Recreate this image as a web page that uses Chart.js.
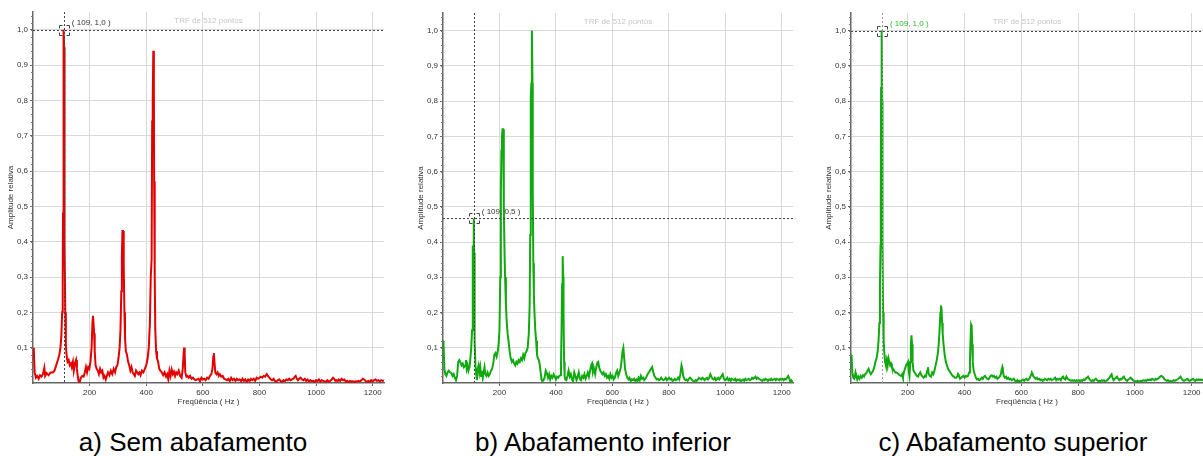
<!DOCTYPE html>
<html>
<head>
<meta charset="utf-8">
<script src="https://cdn.jsdelivr.net/npm/chart.js@4.4.1/dist/chart.umd.min.js"></script>
<style>
  body { margin: 0; background: #fff; width: 1203px; height: 456px; overflow: hidden; position: relative; font-family: "Liberation Sans", Arial, sans-serif; }
  canvas { position: absolute; top: 0; }
  .cap { position: absolute; top: 427px; width: 300px; text-align: center; font-size: 26px; line-height: 30px; color: #000; }
</style>
</head>
<body>
<canvas id="chartA" width="388" height="408" style="left:0px"></canvas>
<canvas id="chartB" width="386" height="408" style="left:410px"></canvas>
<canvas id="chartC" width="385" height="408" style="left:818px"></canvas>
<div class="cap" style="left:43px">a) Sem abafamento</div>
<div class="cap" style="left:453px">b) Abafamento inferior</div>
<div class="cap" style="left:863px">c) Abafamento superior</div>

<script>
// tick labels
var xTicks = [200, 400, 600, 800, 1000, 1200]
var yTicks = [0.1, 0.2, 0.3, 0.4, 0.5, 0.6, 0.7, 0.8, 0.9, 1.0]

// captions / texts
var captions = ["a) Sem abafamento", "b) Abafamento inferior", "c) Abafamento superior"]
var topNote = "TRF de 512 pontos"

// [frequencia Hz, amplitude relativa]
// a) Sem abafamento
var seriesA = [
  [0,0.10],[3,0.09],[6,0.03],[10,0.015],[15,0.02],[20,0.012],[25,0.022],[30,0.018],[35,0.025],[40,0.043],
  [43,0.02],[48,0.028],[55,0.022],[62,0.03],[70,0.03],[76,0.035],[82,0.05],[88,0.065],[93,0.08],[97,0.1],
  [100,0.13],[103,0.2],[105,0.3],[106,0.48],[107,0.83],[108,0.95],[109,1.0],[110,0.95],[111,0.8],[112,0.4],
  [114,0.2],[116,0.11],[119,0.075],[122,0.06],[126,0.065],[130,0.05],[134,0.055],[137,0.045],[141,0.06],[144,0.035],
  [148,0.055],[152,0.065],[155,0.04],[158,0.02],[161,0.005],[165,0.002],[169,0.015],[174,0.02],[179,0.018],[183,0.03],
  [187,0.045],[191,0.03],[195,0.045],[199,0.04],[203,0.06],[207,0.1],[210,0.17],[212,0.19],[214,0.19],[216,0.14],
  [218,0.09],[221,0.05],[225,0.04],[229,0.035],[233,0.025],[237,0.04],[241,0.03],[245,0.035],[249,0.015],[253,0.02],
  [257,0.01],[261,0.02],[265,0.03],[270,0.022],[275,0.035],[280,0.025],[285,0.04],[290,0.03],[294,0.045],[298,0.05],
  [302,0.07],[306,0.1],[309,0.15],[312,0.26],[314,0.36],[316,0.43],[318,0.43],[320,0.4],[321,0.33],[323,0.2],
  [325,0.13],[328,0.09],[332,0.08],[336,0.06],[340,0.05],[344,0.035],[348,0.045],[352,0.03],[356,0.025],[360,0.02],
  [364,0.035],[368,0.03],[372,0.025],[376,0.03],[380,0.022],[385,0.035],[390,0.03],[395,0.04],[400,0.05],[405,0.07],
  [409,0.1],[413,0.17],[416,0.3],[419,0.35],[421,0.74],[423,0.8],[425,0.94],[427,0.82],[428,0.57],[430,0.3],
  [432,0.15],[435,0.09],[438,0.07],[442,0.06],[446,0.04],[450,0.035],[455,0.03],[460,0.022],[465,0.03],[470,0.018],
  [474,0.025],[478,0.01],[482,0.035],[486,0.02],[490,0.038],[494,0.025],[498,0.032],[502,0.02],[506,0.03],[510,0.025],
  [515,0.035],[520,0.02],[525,0.015],[529,0.04],[532,0.08],[534,0.1],[536,0.08],[538,0.03],[542,0.018],[546,0.02],
  [550,0.015],[555,0.02],[560,0.012],[565,0.015],[570,0.01],[575,0.008],[580,0.01],[585,0.012],[590,0.005],[595,0.015],
  [600,0.01],[605,0.012],[610,0.008],[615,0.015],[620,0.012],[625,0.02],[630,0.025],[634,0.04],[637,0.075],[639,0.085],
  [641,0.06],[644,0.03],[648,0.025],[652,0.03],[656,0.02],[660,0.025],[665,0.018],[670,0.02],[675,0.012],[680,0.01],
  [685,0.008],[690,0.012],[695,0.005],[700,0.015],[705,0.008],[710,0.012],[715,0.006],[720,0.012],[725,0.008],[730,0.01],
  [735,0.005],[740,0.012],[745,0.006],[750,0.01],[755,0.003],[760,0.01],[765,0.005],[770,0.012],[775,0.008],[780,0.012],
  [785,0.006],[790,0.015],[795,0.012],[800,0.015],[805,0.018],[810,0.015],[815,0.02],[820,0.018],[826,0.025],[830,0.02],
  [835,0.015],[840,0.01],[845,0.008],[850,0.012],[855,0.005],[860,0.004],[865,0.008],[870,0.01],[875,0.005],[880,0.003],
  [885,0.008],[890,0.005],[895,0.01],[900,0.008],[905,0.012],[910,0.008],[915,0.01],[920,0.012],[925,0.018],[928,0.02],
  [932,0.012],[936,0.008],[940,0.012],[945,0.015],[950,0.01],[955,0.008],[960,0.012],[965,0.006],[970,0.01],[975,0.004],
  [980,0.008],[985,0.005],[990,0.006],[995,0.003],[1000,0.008],[1005,0.005],[1010,0.01],[1015,0.004],[1020,0.008],[1025,0.006],
  [1030,0.005],[1035,0.003],[1040,0.008],[1045,0.004],[1050,0.006],[1055,0.01],[1060,0.015],[1064,0.012],[1068,0.006],[1072,0.008],
  [1076,0.005],[1080,0.01],[1085,0.006],[1090,0.012],[1095,0.008],[1100,0.01],[1105,0.004],[1110,0.006],[1115,0.003],[1120,0.006],
  [1125,0.004],[1130,0.005],[1135,0.003],[1140,0.005],[1145,0.004],[1150,0.006],[1155,0.004],[1160,0.008],[1165,0.012],[1170,0.01],
  [1175,0.005],[1180,0.004],[1185,0.006],[1190,0.003],[1195,0.008],[1200,0.005],[1205,0.008],[1210,0.01],[1215,0.006],[1220,0.008],
  [1225,0.005],[1230,0.008],[1235,0.006],[1240,0.007]
]

// b) Abafamento inferior
var seriesB = [
  [0,0.12],[2,0.11],[5,0.04],[8,0.025],[12,0.02],[16,0.03],[20,0.035],[25,0.03],[30,0.028],[34,0.02],
  [38,0.025],[42,0.015],[46,0.008],[50,0.02],[54,0.06],[58,0.065],[62,0.058],[66,0.05],[70,0.055],[74,0.045],
  [78,0.05],[81,0.065],[84,0.04],[87,0.05],[90,0.035],[94,0.045],[97,0.07],[100,0.1],[103,0.15],[105,0.24],
  [106,0.39],[107,0.37],[109,0.467],[110,0.37],[111,0.29],[113,0.12],[115,0.05],[117,0.03],[120,0.008],[123,0.04],
  [126,0.05],[129,0.03],[132,0.045],[135,0.02],[138,0.035],[141,0.015],[144,0.03],[147,0.045],[150,0.025],[154,0.02],
  [158,0.03],[162,0.02],[166,0.025],[170,0.035],[174,0.04],[178,0.055],[182,0.08],[186,0.085],[190,0.075],[194,0.09],
  [197,0.11],[200,0.15],[203,0.3],[205,0.54],[207,0.66],[209,0.7],[211,0.72],[213,0.72],[215,0.6],[216,0.5],
  [218,0.37],[220,0.3],[223,0.22],[226,0.17],[229,0.14],[232,0.12],[236,0.09],[240,0.07],[244,0.06],[248,0.065],
  [252,0.055],[256,0.05],[260,0.06],[264,0.055],[268,0.065],[272,0.06],[276,0.07],[280,0.065],[284,0.08],[288,0.07],
  [292,0.085],[296,0.09],[300,0.1],[304,0.14],[307,0.22],[309,0.42],[311,0.81],[313,0.85],[315,1.0],[317,0.85],
  [318,0.55],[320,0.34],[322,0.25],[324,0.2],[327,0.15],[330,0.12],[333,0.08],[336,0.07],[340,0.065],[343,0.05],
  [346,0.03],[349,0.01],[352,0.005],[356,0.008],[360,0.015],[364,0.035],[368,0.028],[372,0.015],[376,0.025],[380,0.01],
  [384,0.02],[388,0.015],[392,0.025],[396,0.018],[400,0.01],[404,0.018],[408,0.015],[412,0.02],[416,0.022],[418,0.05],
  [420,0.15],[422,0.28],[424,0.36],[426,0.3],[427,0.2],[429,0.06],[431,0.02],[433,0.01],[437,0.008],[441,0.02],
  [445,0.035],[449,0.018],[453,0.025],[457,0.01],[461,0.005],[465,0.03],[469,0.02],[473,0.008],[477,0.018],[481,0.03],
  [485,0.012],[489,0.008],[493,0.02],[497,0.015],[501,0.025],[505,0.012],[509,0.02],[513,0.03],[517,0.018],[521,0.035],
  [525,0.05],[528,0.055],[531,0.03],[535,0.04],[539,0.025],[543,0.045],[547,0.058],[550,0.06],[553,0.045],[557,0.035],
  [561,0.03],[565,0.025],[569,0.03],[573,0.02],[577,0.025],[581,0.015],[585,0.02],[589,0.012],[593,0.025],[597,0.015],
  [601,0.02],[605,0.01],[609,0.015],[613,0.028],[617,0.035],[621,0.02],[625,0.03],[629,0.04],[633,0.065],[636,0.09],
  [639,0.1],[642,0.07],[645,0.04],[649,0.025],[653,0.015],[657,0.01],[661,0.015],[665,0.005],[669,0.01],[673,0.008],
  [677,0.012],[681,0.006],[685,0.01],[689,0.005],[693,0.015],[697,0.008],[701,0.02],[705,0.012],[709,0.015],[713,0.008],
  [717,0.012],[721,0.018],[725,0.025],[729,0.03],[733,0.035],[737,0.04],[741,0.045],[745,0.03],[749,0.02],[753,0.015],
  [757,0.01],[761,0.012],[765,0.008],[769,0.01],[773,0.015],[777,0.01],[781,0.008],[785,0.01],[789,0.015],[793,0.008],
  [797,0.012],[801,0.015],[805,0.01],[809,0.012],[813,0.006],[817,0.008],[821,0.012],[825,0.008],[829,0.01],[833,0.015],
  [837,0.01],[841,0.025],[845,0.05],[848,0.04],[851,0.02],[855,0.012],[859,0.008],[863,0.01],[867,0.006],[871,0.012],
  [875,0.015],[879,0.012],[883,0.008],[887,0.005],[891,0.004],[895,0.008],[899,0.006],[903,0.01],[907,0.015],[911,0.012],
  [915,0.01],[919,0.015],[923,0.012],[927,0.008],[931,0.012],[935,0.015],[939,0.01],[943,0.015],[947,0.025],[951,0.018],
  [955,0.012],[959,0.01],[963,0.015],[967,0.008],[971,0.012],[975,0.015],[979,0.01],[983,0.015],[987,0.02],[991,0.025],
  [995,0.012],[999,0.008],[1003,0.01],[1007,0.015],[1011,0.008],[1015,0.012],[1019,0.006],[1023,0.012],[1027,0.01],[1031,0.008],
  [1035,0.012],[1039,0.006],[1043,0.01],[1047,0.008],[1051,0.01],[1055,0.004],[1059,0.008],[1063,0.01],[1067,0.006],[1071,0.012],
  [1075,0.008],[1079,0.01],[1083,0.012],[1087,0.008],[1091,0.01],[1095,0.015],[1099,0.012],[1103,0.015],[1107,0.018],[1111,0.012],
  [1115,0.015],[1119,0.012],[1123,0.01],[1127,0.008],[1131,0.006],[1135,0.01],[1139,0.008],[1143,0.012],[1147,0.01],[1151,0.006],
  [1155,0.01],[1159,0.008],[1163,0.012],[1167,0.008],[1171,0.01],[1175,0.012],[1179,0.008],[1183,0.012],[1187,0.01],[1191,0.008],
  [1195,0.012],[1199,0.01],[1203,0.012],[1207,0.008],[1211,0.012],[1215,0.01],[1219,0.015],[1223,0.02],[1226,0.015],[1230,0.005],
  [1234,0.008],[1238,0.003],[1240,0.002]
]

// c) Abafamento superior
var seriesC = [
  [0,0.08],[2,0.075],[5,0.03],[8,0.015],[12,0.012],[16,0.03],[19,0.02],[22,0.01],[26,0.018],[30,0.012],
  [34,0.02],[38,0.015],[42,0.022],[46,0.018],[50,0.025],[54,0.028],[58,0.035],[62,0.04],[66,0.03],[70,0.025],
  [74,0.03],[78,0.035],[82,0.045],[86,0.06],[90,0.07],[94,0.09],[97,0.12],[100,0.17],[102,0.28],[104,0.39],
  [105,0.5],[106,0.84],[107,0.8],[109,1.0],[110,0.8],[111,0.4],[113,0.2],[115,0.12],[117,0.09],[120,0.06],
  [123,0.05],[126,0.065],[129,0.05],[132,0.07],[135,0.06],[138,0.05],[141,0.055],[144,0.045],[148,0.04],[152,0.035],
  [156,0.03],[160,0.03],[164,0.028],[168,0.025],[172,0.022],[176,0.02],[180,0.025],[183,0.015],[186,0.03],[190,0.04],
  [194,0.05],[198,0.055],[201,0.06],[204,0.03],[206,0.02],[209,0.06],[211,0.11],[213,0.135],[215,0.11],[217,0.06],
  [220,0.035],[224,0.03],[228,0.025],[232,0.02],[236,0.018],[240,0.025],[244,0.03],[248,0.022],[252,0.018],[256,0.015],
  [260,0.02],[264,0.018],[268,0.035],[271,0.045],[274,0.025],[278,0.02],[282,0.018],[286,0.03],[290,0.025],[294,0.035],
  [298,0.05],[302,0.065],[306,0.085],[309,0.11],[312,0.15],[315,0.2],[317,0.22],[319,0.21],[321,0.17],[323,0.14],
  [326,0.11],[330,0.08],[334,0.06],[338,0.05],[342,0.04],[346,0.035],[350,0.03],[354,0.025],[358,0.02],[362,0.018],
  [366,0.015],[370,0.015],[374,0.018],[377,0.025],[380,0.02],[384,0.012],[388,0.015],[392,0.018],[396,0.02],[400,0.015],
  [404,0.02],[408,0.018],[412,0.02],[416,0.03],[419,0.06],[421,0.12],[423,0.165],[425,0.16],[427,0.11],[429,0.06],
  [432,0.035],[436,0.025],[440,0.015],[444,0.01],[448,0.012],[452,0.008],[456,0.01],[460,0.015],[464,0.012],[468,0.018],
  [472,0.02],[476,0.015],[480,0.012],[484,0.01],[488,0.015],[492,0.02],[496,0.022],[500,0.018],[504,0.02],[508,0.015],
  [512,0.018],[516,0.012],[520,0.015],[524,0.018],[528,0.025],[531,0.04],[533,0.045],[535,0.035],[538,0.02],[542,0.015],
  [546,0.018],[550,0.012],[554,0.015],[558,0.01],[562,0.012],[566,0.008],[570,0.01],[574,0.012],[578,0.006],[582,0.004],
  [586,0.008],[590,0.004],[594,0.006],[598,0.005],[602,0.008],[606,0.01],[610,0.006],[614,0.01],[618,0.012],[622,0.008],
  [626,0.01],[630,0.015],[634,0.022],[637,0.03],[640,0.025],[643,0.018],[647,0.015],[651,0.012],[655,0.015],[659,0.01],
  [663,0.012],[667,0.008],[671,0.01],[675,0.006],[679,0.008],[683,0.012],[687,0.01],[691,0.008],[695,0.012],[699,0.01],
  [703,0.012],[707,0.008],[711,0.01],[715,0.012],[719,0.015],[723,0.008],[727,0.012],[731,0.01],[735,0.012],[739,0.008],
  [743,0.015],[747,0.018],[751,0.012],[755,0.01],[759,0.018],[763,0.012],[767,0.01],[771,0.008],[775,0.006],[779,0.008],
  [783,0.006],[787,0.008],[791,0.005],[795,0.008],[799,0.006],[803,0.008],[807,0.005],[811,0.008],[815,0.006],[819,0.01],
  [823,0.008],[827,0.012],[831,0.015],[835,0.018],[839,0.012],[843,0.008],[847,0.005],[851,0.008],[855,0.006],[859,0.01],
  [863,0.012],[867,0.008],[871,0.005],[875,0.006],[879,0.005],[883,0.008],[887,0.006],[891,0.008],[895,0.005],[899,0.006],
  [903,0.008],[907,0.012],[911,0.015],[915,0.022],[918,0.025],[921,0.015],[925,0.008],[929,0.012],[933,0.015],[937,0.018],
  [941,0.012],[945,0.008],[949,0.012],[953,0.01],[957,0.015],[961,0.018],[965,0.012],[969,0.008],[973,0.006],[977,0.01],
  [981,0.012],[985,0.015],[989,0.012],[993,0.008],[997,0.006],[1001,0.005],[1005,0.004],[1009,0.006],[1013,0.005],[1017,0.004],
  [1021,0.006],[1025,0.005],[1029,0.008],[1033,0.006],[1037,0.008],[1041,0.006],[1045,0.01],[1049,0.008],[1053,0.01],[1057,0.008],
  [1061,0.012],[1065,0.01],[1069,0.008],[1073,0.012],[1077,0.01],[1081,0.012],[1085,0.015],[1089,0.018],[1093,0.02],[1097,0.018],
  [1101,0.015],[1105,0.01],[1109,0.008],[1113,0.006],[1117,0.008],[1121,0.005],[1125,0.006],[1129,0.004],[1133,0.006],[1137,0.008],
  [1141,0.006],[1145,0.008],[1149,0.01],[1153,0.012],[1157,0.015],[1161,0.018],[1165,0.012],[1169,0.008],[1173,0.006],[1177,0.008],
  [1181,0.01],[1185,0.012],[1189,0.008],[1193,0.006],[1197,0.008],[1201,0.01],[1205,0.012],[1209,0.008],[1213,0.006],[1217,0.01],
  [1221,0.008],[1225,0.01],[1229,0.008],[1233,0.01],[1237,0.008],[1240,0.01]
]

// cursor readouts
var cursorA = { x: 109, y: 1.0, label: "( 109, 1,0 )" }
var cursorB = { x: 109, y: 0.467, label: "( 109, 0,5 )" }
var cursorC = { x: 109, y: 1.0, label: "( 109, 1,0 )" }

var RED = "rgb(226, 0, 0)"
var GREEN = "rgb(16, 170, 16)"

// texto "TRF", cursor tracejado e ticks menores
var overlayPlugin = {
  id: "overlay",
  afterDatasetsDraw: function(chart, args, opts) {
    var ctx = chart.ctx
    var area = chart.chartArea
    var xs = chart.scales.x
    var ys = chart.scales.y
    ctx.save()

    ctx.font = "8px 'Liberation Sans', Arial"
    ctx.fillStyle = "#c6c6c6"
    ctx.textAlign = "center"
    ctx.textBaseline = "middle"
    ctx.fillText(topNote, (area.left + area.right) / 2, area.top + 8.5)

    var c = opts.cursor
    var px = xs.getPixelForValue(c.x)
    var py = ys.getPixelForValue(c.y)
    ctx.lineWidth = 1
    ctx.setLineDash([2, 2])
    ctx.strokeStyle = opts.vColor
    ctx.beginPath()
    ctx.moveTo(Math.round(px) + 0.5, area.top)
    ctx.lineTo(Math.round(px) + 0.5, area.bottom)
    ctx.stroke()
    ctx.strokeStyle = "#444"
    ctx.beginPath()
    ctx.moveTo(area.left, Math.round(py) + 0.5)
    ctx.lineTo(area.right, Math.round(py) + 0.5)
    ctx.stroke()

    // marcador de canto
    ctx.setLineDash([])
    ctx.strokeStyle = "#444"
    var h = 5, k = 3
    var cx = Math.round(px) + 0.5, cy = Math.round(py) + 0.5
    ctx.beginPath()
    ctx.moveTo(cx - h, cy - h + k); ctx.lineTo(cx - h, cy - h); ctx.lineTo(cx - h + k, cy - h)
    ctx.moveTo(cx + h - k, cy - h); ctx.lineTo(cx + h, cy - h); ctx.lineTo(cx + h, cy - h + k)
    ctx.moveTo(cx - h, cy + h - k); ctx.lineTo(cx - h, cy + h); ctx.lineTo(cx - h + k, cy + h)
    ctx.moveTo(cx + h - k, cy + h); ctx.lineTo(cx + h, cy + h); ctx.lineTo(cx + h, cy + h - k)
    ctx.stroke()

    ctx.font = "8px 'Liberation Sans', Arial"
    ctx.fillStyle = opts.labelColor
    ctx.textAlign = "left"
    ctx.fillText(c.label, px + 8, py - 6.5)

    // ticks menores do eixo y
    ctx.strokeStyle = "#777"
    ctx.beginPath()
    for (var i = 1; i <= 52; i++) {
      var v = i * 0.02
      if (v > ys.max) break
      var yy = Math.round(ys.getPixelForValue(v)) + 0.5
      ctx.moveTo(area.left - 2, yy)
      ctx.lineTo(area.left, yy)
    }
    ctx.stroke()
    ctx.restore()
  }
}

function makeChart(id, series, color, cursor, padTop, padRight, labelColor, vColor) {
  var ctx = document.getElementById(id)
  var points = series.map(function(p) { return { x: p[0], y: p[1] } })
  return new Chart(ctx, {
    type: "line",
    data: {
      datasets: [{
        data: points,
        borderColor: color,
        borderWidth: 2,
        pointRadius: 0,
        tension: 0,
        fill: false
      }]
    },
    plugins: [overlayPlugin],
    options: {
      responsive: false,
      animation: false,
      devicePixelRatio: 1,
      layout: { padding: { left: 6, top: padTop, right: padRight, bottom: 0 } },
      plugins: {
        legend: { display: false },
        tooltip: { enabled: false },
        overlay: { cursor: cursor, labelColor: labelColor, vColor: vColor }
      },
      scales: {
        x: {
          type: "linear",
          min: 0,
          max: 1240,
          afterBuildTicks: function(s) { s.ticks = xTicks.map(function(v) { return { value: v } }) },
          afterFit: function(s) { s.height = 408 - 383 },
          ticks: {
            autoSkip: false, maxRotation: 0, padding: 2,
            font: { size: 8, family: "'Liberation Sans', Arial" }, color: "#333",
            callback: function(v) { return String(v) }
          },
          grid: { color: "#d9d9d9", tickColor: "#666", tickLength: 3 },
          border: { color: "#666", width: 1.5 },
          title: {
            display: true, text: "Freqüência ( Hz )", color: "#333",
            font: { size: 8, family: "'Liberation Sans', Arial" }, padding: { top: 0, bottom: 1 }
          }
        },
        y: {
          min: 0,
          max: 1.05,
          afterBuildTicks: function(s) { s.ticks = yTicks.map(function(v) { return { value: v } }) },
          afterFit: function(s) { s.width = 27 },
          ticks: {
            padding: 2,
            font: { size: 8, family: "'Liberation Sans', Arial" }, color: "#333",
            callback: function(v) { return v.toFixed(1).replace(".", ",") }
          },
          grid: { color: "#d9d9d9", tickColor: "#666", tickLength: 3 },
          border: { color: "#666", width: 1.5 },
          title: {
            display: true, text: "Amplitude relativa", color: "#333",
            font: { size: 8, family: "'Liberation Sans', Arial" }, padding: 0
          }
        }
      }
    }
  })
}

makeChart("chartA", seriesA, RED, cursorA, 12, 4, "#333", "#444")
makeChart("chartB", seriesB, GREEN, cursorB, 13, 3, "#333", "#444")
makeChart("chartC", seriesC, GREEN, cursorC, 13, 0, "rgb(40, 190, 40)", "#999")
</script>
</body>
</html>
